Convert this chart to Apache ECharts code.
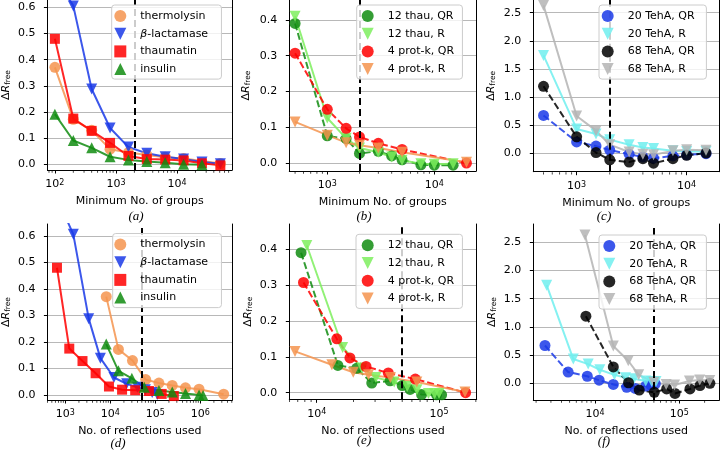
<!DOCTYPE html>
<html><head><meta charset="utf-8">
<script src="https://cdn.jsdelivr.net/npm/echarts@6/dist/echarts.min.js"></script>
<style>html,body{margin:0;padding:0;background:#fff}#c{width:720px;height:453px}</style>
</head><body><div id="c"></div>
<script>
// ---------- data: panels (a) and (d) ----------
const groupsAll = [100,200,400,800,1600,3200,6400,12800,25600,51200];
const thermoGroups = [100,200,400,800,1600,3200,6400,12800,51200];
const insulinGroups = [100,200,400,800,1600,3200,6400,12800,25600];
const thermolysin = [0.371,0.172,0.13,0.058,0.045,0.036,0.027,0.022,0.003];
const blactamase = [0.72,0.606,0.288,0.139,0.066,0.042,0.029,0.02,0.009,0.002];
const thaumatin = [0.48,0.175,0.128,0.082,0.032,0.02,0.018,0.015,0.004,-0.004];
const insulin = [0.192,0.091,0.063,0.029,0.017,0.011,0.006,0.0,-0.002];
const thermoRefl = [8100,15100,31000,61000,120000,237000,467000,935000,3300000];
const blactamRefl = [750,1500,3300,6000,12000,23000,40000,60000,85000,110000];
const thaumRefl = [650,1220,2400,4700,9300,18200,35600,72000,138000,257000];
const insulinRefl = [8100,15100,30000,56600,120000,237000,467000,935000,1150000];
// ---------- data: panels (b) and (e) ----------
const thauGroups = [500,1000,1500,2000,3000,4000,5000,7500,10000,15000];
const protGroups = [500,1000,1500,2000,3000,5000,20000];
const thau12QR = [0.39,0.076,0.068,0.027,0.033,0.02,0.009,-0.005,-0.006,-0.006];
const thau12R = [0.41,0.126,0.069,0.042,0.03,0.017,0.008,-0.002,-0.003,-0.002];
const protkQR = [0.307,0.15,0.097,0.073,0.055,0.038,0.0];
const protkR = [0.115,0.078,0.057,0.05,0.042,0.03,0.002];
const thau12QRRefl = [7450,14900,21200,28200,39800,50000,58000,72000,95500,105000];
const thau12RRefl = [8300,16300,23500,30500,43000,55000,66000,82000,92000,100000];
const protkQRRefl = [7800,14600,18700,25300,38500,64000,165000];
const protkRRefl = [6650,13300,19900,26500,40000,65800,163000];
// ---------- data: panels (c) and (f) ----------
const tehGroups = [500,1000,1500,2000,3000,4000,5000,7500,10000,15000];
const tehA20QR = [0.67,0.2,0.125,0.055,-0.02,-0.07,-0.09,-0.05,-0.03,-0.01];
const tehA20R = [1.74,0.43,0.34,0.24,0.15,0.1,0.08,0.04,0.03,0.03];
const tehA68QR = [1.19,0.29,0.01,-0.12,-0.16,-0.1,-0.18,-0.1,-0.04,0.0];
const tehA68R = [2.63,0.66,0.4,0.15,0.02,-0.02,-0.03,0.04,0.06,0.05];
const tehA20QRRefl = [2550,4800,8100,11200,16500,23800,30000,40000,46000,52000];
const tehA20RRefl = [2670,5530,8300,11400,17000,23000,29000,40000,47000,53000];
const tehA68QRRefl = [7800,16500,25000,33500,50500,70800,89000,134000,176000,231000];
const tehA68RRefl = [7600,16500,24800,33000,50000,70000,88000,132000,175000,230000];
// thresholds and labels
const thresholds = [2000,2000,2000,50000,50000,50000];
const xNames = ['Minimum No. of groups','Minimum No. of groups','Minimum No. of groups','No. of reflections used','No. of reflections used','No. of reflections used'];
const panelLabels = ['(a)','(b)','(c)','(d)','(e)','(f)'];

// ---------- styling / layout ----------
const FONT = 'DejaVu Sans';
const COL = {orange:'#f4944f', blue:'#1a3ae8', red:'#ff0000', green:'#108c10', lgreen:'#7eee5e', cyan:'#70eeee', black:'#000000', grey:'#b4b4b4'};
const DOWN = 'path://M0,0L2,0L1,2Z';
const UP = 'path://M1,0L2,2L0,2Z';
const SQ = 'path://M0,0L2,0L2,2L0,2Z';
const layout = [
  {g:{left:45.7,top:-1,width:186.3,height:171}, x:[Math.pow(10,1.877),Math.pow(10,4.9)], y:[-0.0217,0.6285], sn:6, yGap:32, leg:[111.7,5,2.6,13.3], lab:[136,217]},
  {g:{left:289.3,top:-1,width:186.7,height:172}, x:[Math.pow(10,2.645),Math.pow(10,4.39)], y:[-0.0222,0.4556], sn:5, yGap:37.5, leg:[356.7,5,5,8.3], lab:[364,217]},
  {g:{left:533.3,top:-1,width:185.7,height:172.7}, x:[Math.pow(10,2.606),Math.pow(10,4.294)], y:[-0.331,2.726], sn:6, yGap:36.5, leg:[599,5,2.7,11.8], lab:[604,217]},
  {g:{left:45,top:224,width:187.3,height:176}, x:[Math.pow(10,2.6),Math.pow(10,6.71)], y:[-0.0189,0.645], sn:6, yGap:28.5, leg:[112.7,233.5,1.6,13.3], lab:[118,444]},
  {g:{left:289.3,top:224,width:187.4,height:175.3}, x:[Math.pow(10,3.776),Math.pow(10,5.308)], y:[-0.0184,0.47], sn:5, yGap:31.5, leg:[356,234.3,5.7,8.3], lab:[364,441]},
  {g:{left:533.3,top:224,width:186,height:176}, x:[Math.pow(10,3.268),Math.pow(10,5.475)], y:[-0.296,2.824], sn:6, yGap:34.5, leg:[599,235,4.3,10.2], lab:[604,442]}
];

function line(idx, name, xs, ys, color, symbol, dashed, size) {
  return {type:'line', name, xAxisIndex:idx, yAxisIndex:idx*2,
    data: xs.map((x,i)=>[x, ys[i]]), symbol, symbolSize:size, symbolKeepAspect:true,
    showSymbol:true, clip:true, z:3,
    lineStyle:{color, width:2, type: dashed ? [7,3] : 'solid', opacity:0.85},
    itemStyle:{color, opacity:0.85}, emphasis:{disabled:true}};
}
function minorTicks(min, max) {
  const out = [];
  for (let e = Math.floor(Math.log10(min)); e <= Math.ceil(Math.log10(max)); e++)
    for (let k = 2; k <= 9; k++) { const v = k*Math.pow(10,e); if (v > min && v < max) out.push(v); }
  return out;
}

const series = [];
// (a)
series.push(line(0,'thermolysin',thermoGroups,thermolysin,COL.orange,'circle',false,11));
series.push(line(0,'β-lactamase',groupsAll,blactamase,COL.blue,DOWN,false,11));
series.push(line(0,'thaumatin',groupsAll,thaumatin,COL.red,SQ,false,10));
series.push(line(0,'insulin',insulinGroups,insulin,COL.green,UP,false,11));
// (b)
series.push(line(1,'12 thau, QR',thauGroups,thau12QR,COL.green,'circle',true,11));
series.push(line(1,'12 thau, R',thauGroups,thau12R,COL.lgreen,DOWN,false,11));
series.push(line(1,'4 prot-k, QR',protGroups,protkQR,COL.red,'circle',true,11));
series.push(line(1,'4 prot-k, R',protGroups,protkR,COL.orange,DOWN,false,11));
// (c)
series.push(line(2,'20 TehA, QR',tehGroups,tehA20QR,COL.blue,'circle',true,11));
series.push(line(2,'20 TehA, R',tehGroups,tehA20R,COL.cyan,DOWN,false,11));
series.push(line(2,'68 TehA, QR',tehGroups,tehA68QR,COL.black,'circle',true,11));
series.push(line(2,'68 TehA, R',tehGroups,tehA68R,COL.grey,DOWN,false,11));
// (d)
series.push(line(3,'thermolysin',thermoRefl,thermolysin,COL.orange,'circle',false,11));
series.push(line(3,'β-lactamase',blactamRefl,blactamase,COL.blue,DOWN,false,11));
series.push(line(3,'thaumatin',thaumRefl,thaumatin,COL.red,SQ,false,10));
series.push(line(3,'insulin',insulinRefl,insulin,COL.green,UP,false,11));
// (e)
series.push(line(4,'12 thau, QR',thau12QRRefl,thau12QR,COL.green,'circle',true,11));
series.push(line(4,'12 thau, R',thau12RRefl,thau12R,COL.lgreen,DOWN,false,11));
series.push(line(4,'4 prot-k, QR',protkQRRefl,protkQR,COL.red,'circle',true,11));
series.push(line(4,'4 prot-k, R',protkRRefl,protkR,COL.orange,DOWN,false,11));
// (f)
series.push(line(5,'20 TehA, QR',tehA20QRRefl,tehA20QR,COL.blue,'circle',true,11));
series.push(line(5,'20 TehA, R',tehA20RRefl,tehA20R,COL.cyan,DOWN,false,11));
series.push(line(5,'68 TehA, QR',tehA68QRRefl,tehA68QR,COL.black,'circle',true,11));
series.push(line(5,'68 TehA, R',tehA68RRefl,tehA68R,COL.grey,DOWN,false,11));

const grids = [], xAxes = [], yAxes = [], legends = [], titles = [];
const legendSets = [
  [['thermolysin','circle'],['β-lactamase',DOWN],['thaumatin',SQ],['insulin',UP]],
  [['12 thau, QR','circle'],['12 thau, R',DOWN],['4 prot-k, QR','circle'],['4 prot-k, R',DOWN]],
  [['20 TehA, QR','circle'],['20 TehA, R',DOWN],['68 TehA, QR','circle'],['68 TehA, R',DOWN]]
];
layout.forEach((L, i) => {
  grids.push(Object.assign({show:false, containLabel:false}, L.g));
  xAxes.push({type:'log', logBase:10, gridIndex:i, min:L.x[0], max:L.x[1],
    name:xNames[i], nameLocation:'middle', nameGap:26,
    nameTextStyle:{fontFamily:FONT, fontSize:11, color:'#000'},
    axisLine:{show:true, onZero:false, lineStyle:{color:'#000', width:1}},
    axisTick:{show:true, length:3.5, lineStyle:{color:'#000', width:1}},
    minorTick:{show:false}, splitLine:{show:false},
    axisLabel:{margin:9, showMinLabel:false, showMaxLabel:false, color:'#000',
      formatter: v => { const l = Math.log10(v), e = Math.round(l); return Math.abs(l-e) > 1e-6 ? '' : '{b|10}{s|' + e + '}'; },
      rich:{b:{fontFamily:FONT, fontSize:11, color:'#000', lineHeight:11, verticalAlign:'bottom', padding:[4,0,0,0]},
            s:{fontFamily:FONT, fontSize:8, color:'#000', lineHeight:8, verticalAlign:'top'}}}});
  yAxes.push({type:'value', gridIndex:i, min:L.y[0], max:L.y[1], splitNumber:L.sn,
    name:'{d|Δ}{r|R}{f|free}', nameLocation:'middle', nameRotate:90, nameGap:L.yGap,
    nameTextStyle:{rich:{d:{fontFamily:FONT, fontSize:11, color:'#000', lineHeight:11, verticalAlign:'top', padding:[0,0,2,0]},
                         r:{fontFamily:FONT, fontSize:11, fontStyle:'italic', color:'#000', lineHeight:11, verticalAlign:'top', padding:[0,0,2,0]},
                         f:{fontFamily:FONT, fontSize:7.5, color:'#000', lineHeight:8, verticalAlign:'bottom'}}},
    axisLine:{show:true, onZero:false, lineStyle:{color:'#000', width:1}},
    axisTick:{show:true, length:3.5, lineStyle:{color:'#000', width:1}},
    axisLabel:{margin:12, showMinLabel:false, showMaxLabel:false, color:'#000', fontFamily:FONT, fontSize:11,
      formatter: v => v.toFixed(1)},
    splitLine:{show:true, showMinLine:false, showMaxLine:false, lineStyle:{color:'#b8b8b8', width:1}}});
  yAxes.push({type:'value', gridIndex:i, position:'right', min:L.y[0], max:L.y[1],
    axisLine:{show:true, onZero:false, lineStyle:{color:'#000', width:1}},
    axisTick:{show:false}, axisLabel:{show:false}, splitLine:{show:false}});
  // minor ticks on the log axis
  series.push({type:'scatter', xAxisIndex:i, yAxisIndex:i*2, silent:true, clip:false, z:6,
    data: minorTicks(L.x[0], L.x[1]).map(v => [v, L.y[0]]),
    symbol:'rect', symbolSize:[0.9,2.2], symbolOffset:[0,1.6], itemStyle:{color:'#000'}});
  // vertical threshold line
  series.push({type:'line', name:'threshold'+i, xAxisIndex:i, yAxisIndex:i*2, data:[], z:5,
    markLine:{silent:true, symbol:'none', animation:false, label:{show:false},
      lineStyle:{color:'#000', type:[7,4], width:2}, data:[{xAxis:thresholds[i]}]}});
  const set = legendSets[i % 3];
  legends.push({orient:'vertical', left:L.leg[0], top:L.leg[1], padding:[5,L.leg[3],4,L.leg[2]],
    itemGap:5.7, itemWidth:30, itemHeight:12, selectedMode:false, z:10,
    borderColor:'#cccccc', borderWidth:1, borderRadius:3, backgroundColor:'rgba(255,255,255,0.8)',
    textStyle:{fontFamily:FONT, fontSize:11, color:'#000', lineHeight:12,
      rich:{i:{fontFamily:FONT, fontSize:11, fontStyle:'italic', color:'#000', lineHeight:12}}},
    formatter: n => n === 'β-lactamase' ? '{i|β}-lactamase' : n,
    data: set.map(s => ({name:s[0], icon:s[1]}))});
  titles.push({text:panelLabels[i], left:L.lab[0], top:L.lab[1], textAlign:'center', textVerticalAlign:'middle', padding:0,
    textStyle:{fontFamily:'Liberation Serif', fontStyle:'italic', fontWeight:'normal', fontSize:13, color:'#000'}});
});

const chart = echarts.init(document.getElementById('c'), null, {renderer:'canvas'});
chart.setOption({animation:false, backgroundColor:'#fff', title:titles, grid:grids, xAxis:xAxes, yAxis:yAxes, legend:legends, series});
</script></body></html>
